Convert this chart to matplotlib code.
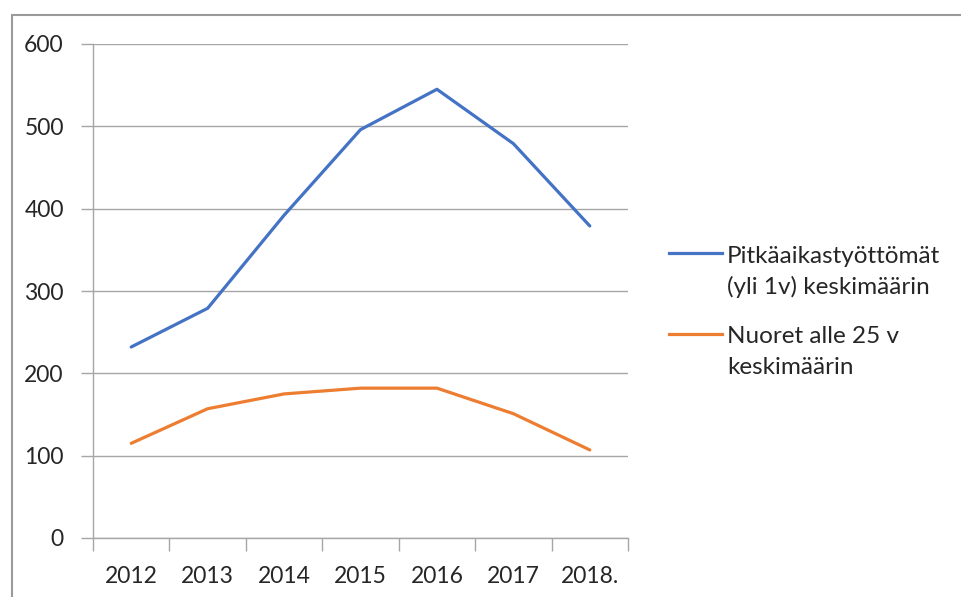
import matplotlib
matplotlib.use("Agg")
import matplotlib.pyplot as plt
from matplotlib.lines import Line2D
from matplotlib.patches import Rectangle

years = ["2012", "2013", "2014", "2015", "2016", "2017", "2018."]
long_term = [232, 279, 392, 496, 545, 479, 379]
youth = [115, 157, 175, 182, 182, 151, 107]
labels = [["Pitkäaikastyöttömät", "(yli 1v) keskimäärin"], ["Nuoret alle 25 v", "keskimäärin"]]
colors = ["#4472C4", "#ED7D31"]

plt.rcParams["font.family"] = ["Lato", "DejaVu Sans"]
text_color = "#262626"
grid_color = "#a6a6a6"

W, H = 962, 597
fig = plt.figure(figsize=(W / 100, H / 100), dpi=100)
ax = fig.add_axes([93 / W, 1 - 538 / H, (628 - 93) / W, (538 - 44) / H])

x = range(len(years))
for vals, c in zip([long_term, youth], colors):
    ax.plot(x, vals, color=c, lw=2.3, solid_capstyle="round")

ax.set_xlim(-0.5, len(years) - 0.5)
ax.set_ylim(0, 600)
ax.set_yticks(range(0, 601, 100))
ax.yaxis.grid(True, color=grid_color, lw=1)
ax.set_axisbelow(True)

# category labels in the middle, tick marks between categories
ax.set_xticks(list(x))
ax.set_xticklabels(years)
ax.set_xticks([i - 0.5 for i in range(len(years) + 1)], minor=True)
ax.tick_params(axis="x", which="major", length=0, pad=20, labelsize=16.5, labelcolor=text_color)
ax.tick_params(axis="x", which="minor", length=9, width=1, color=grid_color, direction="out")
ax.tick_params(axis="y", length=9, width=1, color=grid_color, pad=12, labelsize=16.5, labelcolor=text_color)

for side in ["top", "right"]:
    ax.spines[side].set_visible(False)
for side in ["left", "bottom"]:
    ax.spines[side].set_color(grid_color)
    ax.spines[side].set_linewidth(1)

# legend drawn by hand so the key line sits on the first text line
for (ly, base), lines, c in zip([(253, 263), (334, 343)], labels, colors):
    fig.add_artist(Line2D([669 / W, 722 / W], [1 - ly / H] * 2, color=c, lw=2.3,
                          transform=fig.transFigure))
    for k, line in enumerate(lines):
        fig.text(727 / W, 1 - (base + 31 * k) / H, line, fontsize=17.5,
                 color=text_color, va="baseline", ha="left",
                 transform=fig.transFigure)

# outer chart frame
fig.add_artist(Rectangle((12 / W, -0.2), 2, 1 - 15 / H + 0.2, fill=False,
                         edgecolor="#9a9a9a", lw=1.5, transform=fig.transFigure,
                         clip_on=False))

fig.savefig("out.png", dpi=100)
